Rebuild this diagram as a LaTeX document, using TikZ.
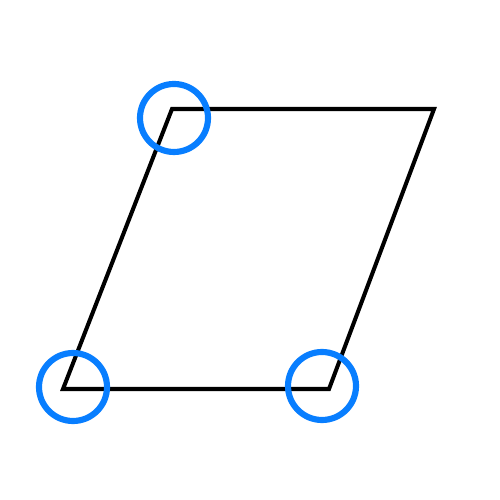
\documentclass[tikz,border=0pt]{standalone}
\usepackage{xcolor}
\usepackage{tikz}
\usetikzlibrary{positioning,calc}

\definecolor{hiblue}{HTML}{087EFF}

\begin{document}
\begin{tikzpicture}[
    edge/.style={draw=black, line width=2.3pt, line join=miter},
    hilite/.style={circle, draw=hiblue, line width=3.5pt, minimum size=1.36cm, inner sep=0pt}
]
\useasboundingbox (0,0) rectangle (10,10);

% Corners
\coordinate (a) at (1.26, 2.22);
\coordinate (b) at (6.58, 2.22);
\coordinate (c) at (8.68, 7.82);
\coordinate (d) at (3.44, 7.82);

% Parallelogram
\draw[edge] (a) -- (b) -- (c) -- (d) -- cycle;

% Marked corners
\node[hilite] (ma) at (1.46, 2.26) {};
\node[hilite] (mb) at (6.44, 2.28) {};
\node[hilite] (md) at (3.48, 7.64) {};

\end{tikzpicture}
\end{document}
